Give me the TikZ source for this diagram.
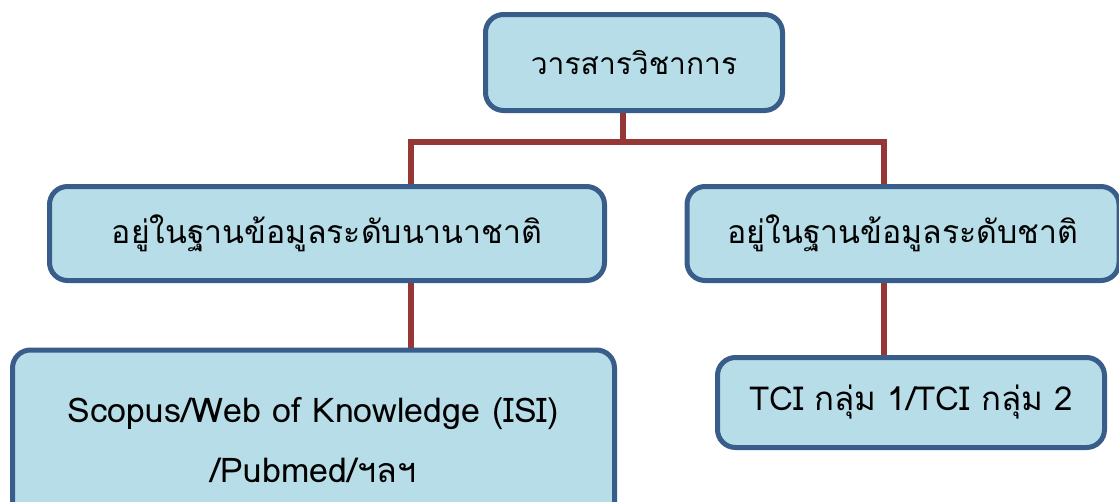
\documentclass[tikz,border=0pt]{standalone}
\usepackage{fontspec}
\setmainfont[Script=Thai]{Loma}
\usetikzlibrary{backgrounds}
\definecolor{boxfill}{HTML}{B7DDE8}
\definecolor{boxline}{HTML}{385D8A}
\definecolor{linkred}{HTML}{953735}
\begin{document}
\begin{tikzpicture}[x=1pt,y=-1pt,
  box/.style={draw=boxline, fill=boxfill, line width=5pt, rounded corners=18pt,
    inner sep=0pt, align=center},
  link/.style={draw=linkred, line width=6pt}]
\useasboundingbox (0,0) rectangle (1119,501);
\node[box, minimum width=297pt, minimum height=96pt, font=\fontsize{30}{36}\selectfont] (top) at (634,62.5) {วารสารวิชาการ};
\node[box, minimum width=555pt, minimum height=94pt, font=\fontsize{32}{38}\selectfont] (lmid) at (327,233.5) {อยู่ในฐานข้อมูลระดับนานาชาติ};
\node[box, minimum width=432pt, minimum height=94pt, font=\fontsize{32}{38}\selectfont] (rmid) at (903,233.5) {อยู่ในฐานข้อมูลระดับชาติ};
\node[box, minimum width=602pt, minimum height=180pt, font=\fontsize{34}{60}\selectfont] (lbot) at (313.5,440) {Scopus/Web of Knowledge (ISI)\\/Pubmed/ฯลฯ};
\node[box, minimum width=387pt, minimum height=90pt, font=\fontsize{33}{40}\selectfont] (rbot) at (911,402.5) {TCI กลุ่ม 1/TCI กลุ่ม 2};
\coordinate (j) at (623,142);
\coordinate (jl) at (411,142);
\coordinate (jr) at (884,142);
\begin{scope}[on background layer]
\draw[link] (j |- top.south) -- (j);
\draw[link] (jl |- lmid.north) -- (jl) -- (jr) -- (jr |- rmid.north);
\draw[link] (jl |- lmid.south) -- (jl |- lbot.north);
\draw[link] (jr |- rmid.south) -- (jr |- rbot.north);
\end{scope}
\end{tikzpicture}
\end{document}
